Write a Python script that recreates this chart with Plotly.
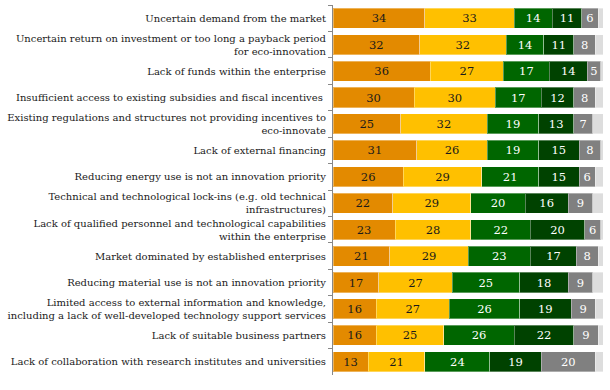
import plotly.graph_objects as go

categories = [
    "Uncertain demand from the market",
    "Uncertain return on investment or too long a payback period<br>for eco-innovation",
    "Lack of funds within the enterprise",
    "Insufficient access to existing subsidies and fiscal incentives ",
    "Existing regulations and structures not providing incentives to<br>eco-innovate",
    "Lack of external financing",
    "Reducing energy use is not an innovation priority",
    "Technical and technological lock-ins (e.g. old technical<br>infrastructures)",
    "Lack of qualified personnel and technological capabilities<br>within the enterprise",
    "Market dominated by established enterprises",
    "Reducing material use is not an innovation priority",
    "Limited access to external information and knowledge,<br>including a lack of well-developed technology support services",
    "Lack of suitable business partners",
    "Lack of collaboration with research institutes and universities",
]

s1 = [34, 32, 36, 30, 25, 31, 26, 22, 23, 21, 17, 16, 16, 13]
s2 = [33, 32, 27, 30, 32, 26, 29, 29, 28, 29, 27, 27, 25, 21]
s3 = [14, 14, 17, 17, 19, 19, 21, 20, 22, 23, 25, 26, 26, 24]
s4 = [11, 11, 14, 12, 13, 15, 15, 16, 20, 17, 18, 19, 22, 19]
s5 = [6, 8, 5, 8, 7, 8, 6, 9, 6, 8, 9, 9, 9, 20]
s6 = [2, 3, 1, 3, 4, 1, 3, 4, 1, 2, 4, 3, 2, 3]

series = [s1, s2, s3, s4, s5, s6]
colors = ["#E38A00", "#FFC000", "#006600", "#004200", "#808080", "#DDDDDD"]
text_colors = ["#1a1a1a", "#1a1a1a", "white", "white", "white", None]

FONT = "DejaVu Serif"

fig = go.Figure()
for vals, col, tc in zip(series, colors, text_colors):
    fig.add_trace(go.Bar(
        y=categories,
        x=vals,
        orientation="h",
        marker=dict(color=col, line=dict(color="rgba(255,255,255,0.35)", width=1)),
        text=[str(v) for v in vals] if tc else None,
        textposition="inside" if tc else "none",
        insidetextanchor="middle",
        textangle=0,
        textfont=dict(family=FONT, size=11.5, color=tc if tc else "black"),
        constraintext="none",
        cliponaxis=False,
        hoverinfo="skip",
        showlegend=False,
    ))

fig.update_layout(
    barmode="stack",
    bargap=0.24,
    width=610,
    height=390,
    margin=dict(l=333, r=3, t=5, b=15),
    paper_bgcolor="white",
    plot_bgcolor="white",
    font=dict(family=FONT, size=10, color="#1a1a1a"),
)
fig.update_xaxes(range=[0, 101.3], visible=False, fixedrange=True, automargin=False)
fig.update_yaxes(
    autorange="reversed",
    automargin=False,
    showline=True,
    linecolor="#888888",
    linewidth=1,
    ticks="outside",
    tickson="boundaries",
    ticklen=4,
    tickcolor="#888888",
    showgrid=False,
    tickfont=dict(family=FONT, size=10, color="#1a1a1a"),
    ticklabelstandoff=4,
)

fig.write_html(
    "out.html",
    config={"displayModeBar": False},
    post_script="document.body.style.margin='0';",
)
